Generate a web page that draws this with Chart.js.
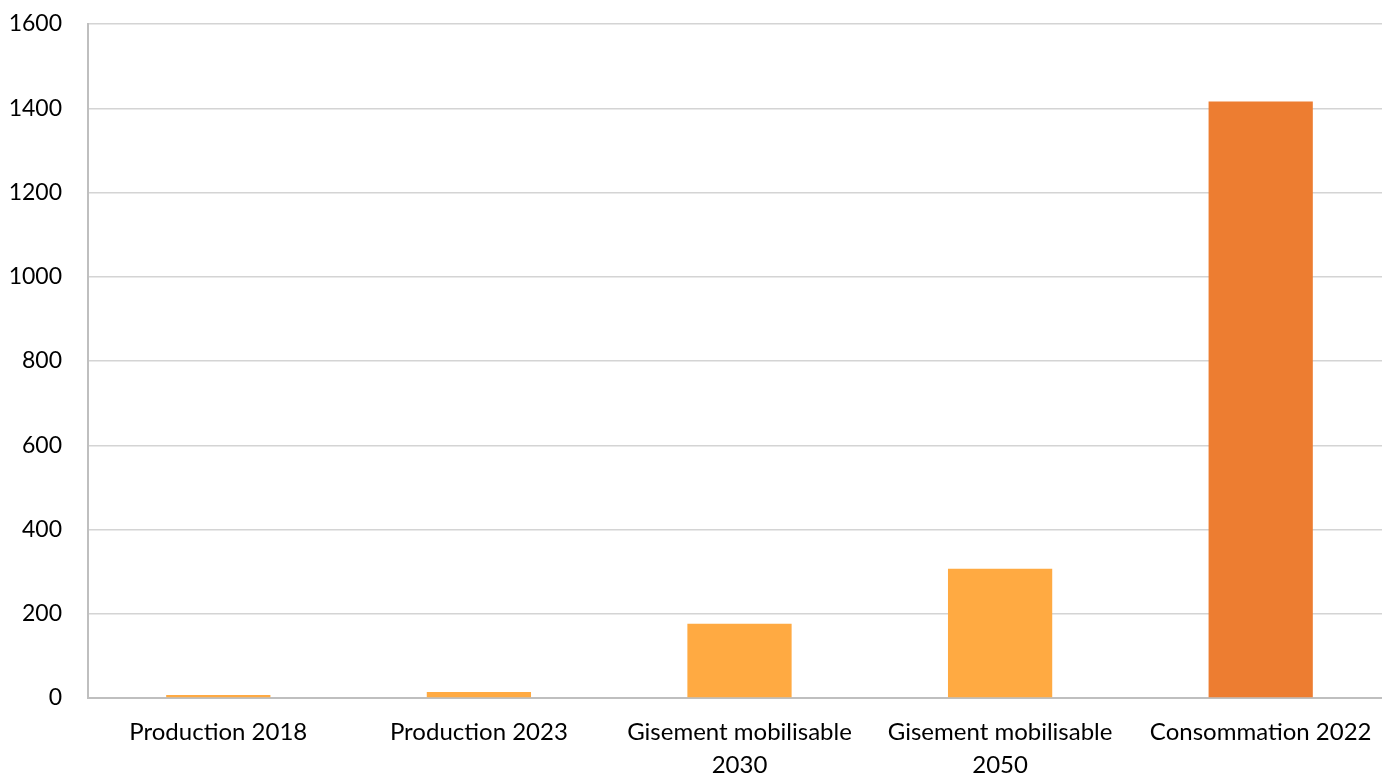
<!DOCTYPE html>
<html>
<head>
<meta charset="utf-8">
<script src="https://cdn.jsdelivr.net/npm/chart.js@4/dist/chart.umd.min.js"></script>
<style>
  html, body { margin: 0; padding: 0; background: #fff; overflow: hidden; }
  #wrap { width: 1391px; height: 776px; position: relative; }
</style>
</head>
<body>
<div id="wrap"><canvas id="c"></canvas></div>
<script>
const categories = [
  "Production 2018",
  "Production 2023",
  ["Gisement mobilisable", "2030"],
  ["Gisement mobilisable", "2050"],
  "Consommation 2022"
];
const values = [7, 14, 176, 307, 1416];
const barColors = ["#FFAA42", "#FFAA42", "#FFAA42", "#FFAA42", "#ED7D31"];
const yTicks = [0, 200, 400, 600, 800, 1000, 1200, 1400, 1600];

const FONT = "Lato, 'Open Sans', sans-serif";

new Chart(document.getElementById('c'), {
  type: 'bar',
  data: {
    labels: categories,
    datasets: [{
      data: values,
      backgroundColor: barColors,
      borderWidth: 0,
      barPercentage: 0.4,
      categoryPercentage: 1.0
    }]
  },
  options: {
    responsive: true,
    maintainAspectRatio: false,
    animation: false,
    layout: { padding: { top: 24, right: 0, left: 0, bottom: 0 } },
    plugins: { legend: { display: false }, tooltip: { enabled: false } },
    scales: {
      x: {
        grid: { display: false, drawTicks: false },
        border: { display: true, color: '#bfbfbf', width: 2 },
        ticks: {
          color: '#000',
          font: { family: FONT, size: 24, lineHeight: 1.375 },
          padding: 18,
          maxRotation: 0,
          autoSkip: false
        },
        afterFit: s => { s.height = 78; }
      },
      y: {
        min: 0,
        max: 1600,
        afterBuildTicks: s => { s.ticks = yTicks.map(v => ({ value: v })); },
        grid: { color: '#d4d4d4', lineWidth: 1.5, drawTicks: false },
        border: { display: true, color: '#bfbfbf', width: 2 },
        ticks: {
          color: '#000',
          font: { family: FONT, size: 23 },
          padding: 26,
          callback: v => String(v)
        },
        afterFit: s => { s.width = 88; s.paddingTop = 0; s.paddingBottom = 0; }
      }
    }
  }
});
</script>
</body>
</html>
